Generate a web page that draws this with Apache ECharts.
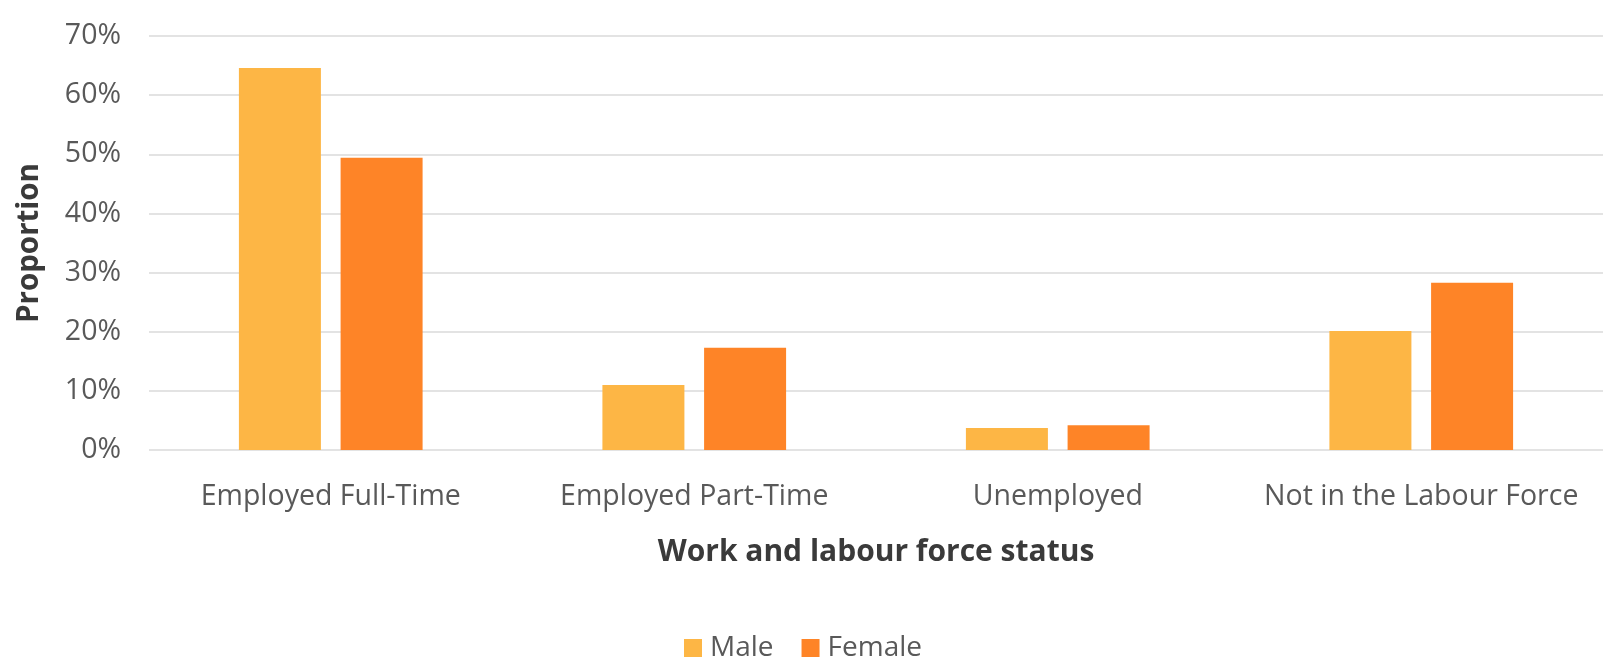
<!DOCTYPE html>
<html>
<head>
<meta charset="utf-8">
<script src="https://cdn.jsdelivr.net/npm/echarts@6/dist/echarts.min.js"></script>
<style>html,body{margin:0;padding:0;background:#fff}#c{width:1603px;height:667px}</style>
</head>
<body>
<div id="c"></div>
<script>
const categories = ['Employed Full-Time', 'Employed Part-Time', 'Unemployed', 'Not in the Labour Force'];
const seriesNames = ['Male', 'Female'];
const maleValues = [64.6, 11.0, 3.7, 20.1];
const femaleValues = [49.4, 17.3, 4.2, 28.3];
const yTicks = [0, 10, 20, 30, 40, 50, 60, 70];

const chart = echarts.init(document.getElementById('c'));
const font = "'Open Sans', sans-serif";
chart.setOption({
  animation: false,
  textStyle: { fontFamily: font },
  grid: { left: 149, right: 0, top: 36, bottom: 217, containLabel: false },
  legend: {
    data: seriesNames,
    left: 679, top: 629,
    itemWidth: 18, itemHeight: 18, itemGap: 28,
    icon: 'rect',
    textStyle: { fontFamily: font, fontSize: 28, color: '#595959', padding: [0, 0, 0, 3] }
  },
  xAxis: {
    type: 'category',
    data: categories,
    name: 'Work and labour force status',
    nameLocation: 'middle',
    nameGap: 87,
    nameTextStyle: { fontFamily: font, fontSize: 30, fontWeight: 'bold', color: '#3a3a3a' },
    axisLine: { show: false },
    axisTick: { show: false },
    axisLabel: { fontFamily: font, fontSize: 28.5, color: '#595959', margin: 32, interval: 0, hideOverlap: false }
  },
  yAxis: {
    type: 'value',
    min: yTicks[0], max: yTicks[yTicks.length - 1], interval: 10,
    name: 'Proportion',
    nameLocation: 'middle',
    nameGap: 104,
    nameTextStyle: { fontFamily: font, fontSize: 29.5, fontWeight: 'bold', color: '#3a3a3a' },
    axisLine: { show: false },
    axisTick: { show: false },
    axisLabel: { fontFamily: font, fontSize: 28.5, color: '#595959', margin: 28, formatter: v => v + '%' },
    splitLine: { lineStyle: { color: '#e3e3e3', width: 2 } }
  },
  series: [
    { name: 'Male', type: 'bar', data: maleValues, barWidth: 82, barGap: '24%', itemStyle: { color: '#FDB645' } },
    { name: 'Female', type: 'bar', data: femaleValues, barWidth: 82, barGap: '24%', itemStyle: { color: '#FE8427' } }
  ]
});
</script>
</body>
</html>
